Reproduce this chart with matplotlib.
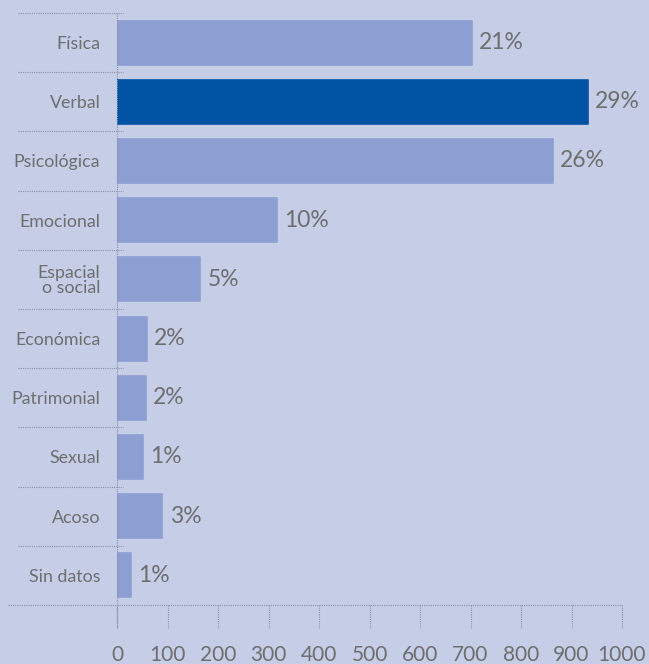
import matplotlib
matplotlib.use("Agg")
import matplotlib.pyplot as plt
import matplotlib.transforms as mtransforms

categories = ["Física", "Verbal", "Psicológica", "Emocional", "Espacial\no social",
              "Económica", "Patrimonial", "Sexual", "Acoso", "Sin datos"]
counts = [702, 932, 863, 317, 165, 60, 57, 52, 90, 28]
percent_labels = ["21%", "29%", "26%", "10%", "5%", "2%", "2%", "1%", "3%", "1%"]
highlight = "Verbal"
x_ticks = [0, 100, 200, 300, 400, 500, 600, 700, 800, 900, 1000]

BG = "#c6cde7"
BAR = "#8d9fd2"
BAR_HI = "#0052a3"
TEXT = "#6e6e6e"
GRID = "#8c91aa"

plt.rcParams["font.family"] = ["Lato", "DejaVu Sans"]

fig = plt.figure(figsize=(6.49, 6.64), dpi=100, facecolor=BG)
ax = fig.add_axes([117 / 649, 59 / 664, 505 / 649, 592 / 664])
ax.set_facecolor(BG)

n = len(categories)
ypos = list(range(n))
colors = [BAR_HI if c == highlight else BAR for c in categories]
bars = ax.barh(ypos, counts, height=0.74, color=colors, edgecolor=colors,
               linewidth=1.2, joinstyle="round")

ax.set_xlim(0, 1000)
ax.set_ylim(n - 0.5, -0.5)

for bar, lab in zip(bars, percent_labels):
    ax.text(bar.get_width() + 14, bar.get_y() + bar.get_height() / 2, lab,
            ha="left", va="center", fontsize=16.5, color=TEXT, clip_on=False)

# category labels on the left
ax.set_yticks(ypos)
ax.set_yticklabels(categories, fontsize=12.8, color=TEXT, linespacing=0.95)
ax.tick_params(axis="y", length=0, pad=12)
for t in ax.get_yticklabels():
    t.set_horizontalalignment("right")
    t.set_multialignment("right")

# x axis tick labels; tick marks are drawn as dotted lines below
ax.set_xticks(x_ticks)
ax.set_xticklabels([str(v) for v in x_ticks], fontsize=15, color=TEXT)
ax.tick_params(axis="x", length=0, width=0, pad=28.5)

for s in ax.spines.values():
    s.set_visible(False)

# dotted separators between categories
trans = mtransforms.blended_transform_factory(ax.transAxes, ax.transData)
for b in [i - 0.5 for i in range(n)]:
    ax.plot([-0.196, 0.012], [b, b], transform=trans, color=GRID, lw=0.8,
            ls=(0, (1, 1)), clip_on=False)

# baseline, tick marks and vertical axis line
ax.plot([-0.216, 1.0], [n - 0.5, n - 0.5], transform=trans, color=GRID, lw=0.8,
        ls=(0, (1, 1)), clip_on=False)
for xv in x_ticks:
    ax.plot([xv, xv], [n - 0.5, n - 0.5 + 0.39], color=GRID, lw=0.8,
            ls=(0, (1, 1)), clip_on=False)
ax.plot([0, 0], [-0.5, n - 0.5 + 0.39], color=GRID, lw=0.8,
        ls=(0, (1, 1)), clip_on=False, zorder=3)

fig.savefig("out.png", dpi=100, facecolor=BG)
